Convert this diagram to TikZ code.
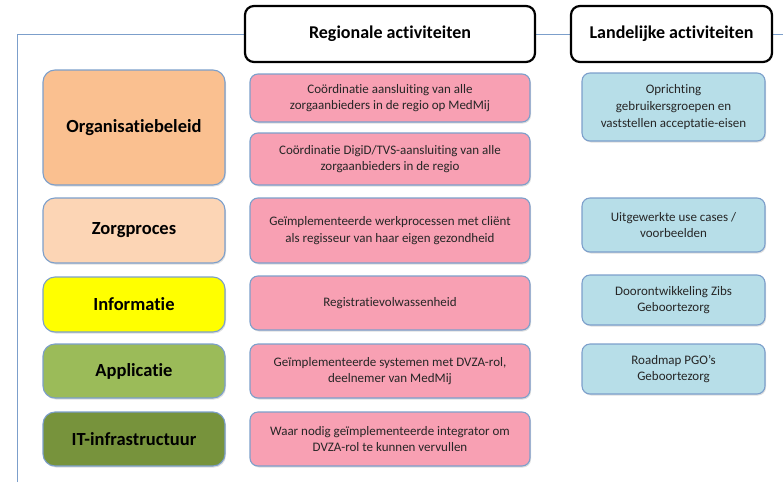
\documentclass[tikz,border=0pt]{standalone}
\usepackage{fontspec}
\setmainfont[Ligatures=NoCommon]{Carlito}
\usetikzlibrary{shadows}
\definecolor{randblauw}{HTML}{7C9FCB}
\definecolor{oranje}{HTML}{FAC090}
\definecolor{perzik}{HTML}{FCD5B5}
\definecolor{geel}{HTML}{FFFF00}
\definecolor{groen}{HTML}{9BBB59}
\definecolor{donkergroen}{HTML}{77933C}
\definecolor{roze}{HTML}{F8A0B3}
\definecolor{lichtblauw}{HTML}{B7DEE8}
\definecolor{tekst}{HTML}{262626}
\begin{document}
\begin{tikzpicture}[x=1pt, y=-1pt,
  schaduw/.style={drop shadow={opacity=0.25, shadow xshift=1pt, shadow yshift=-1.5pt}},
  laag/.style={draw=randblauw, line width=1.1pt, rounded corners=12pt, inner sep=0pt, minimum width=182pt, schaduw, font=\bfseries\fontsize{18.5}{22}\selectfont},
  regio/.style={draw=randblauw, line width=1.1pt, rounded corners=8pt, fill=roze, inner sep=0pt, minimum width=280pt, align=center, text=tekst, schaduw, font=\fontsize{13}{16.5}\selectfont},
  land/.style={draw=randblauw, line width=1.1pt, rounded corners=8pt, fill=lichtblauw, inner sep=0pt, minimum width=183pt, align=center, text=tekst, schaduw, font=\fontsize{13}{16.7}\selectfont},
  kop/.style={draw=black, line width=2.2pt, rounded corners=9pt, fill=white, inner sep=0pt, minimum height=56pt, font=\bfseries\fontsize{18}{21}\selectfont}]
  \useasboundingbox (0,0) rectangle (783,482);
  % kader
  \draw[randblauw, line width=1pt] (17,482) -- (17,34) -- (783,34);
  % koppen
  \node[kop, minimum width=290pt] (regkop) at (390,34) {Regionale activiteiten};
  \node[kop, minimum width=201pt] (landkop) at (671.5,34) {Landelijke activiteiten};
  % lagen
  \node[laag, fill=oranje, minimum height=115pt] (org) at (134,127.5) {Organisatiebeleid};
  \node[laag, fill=perzik, minimum height=65pt] (zorg) at (134,230.5) {Zorgproces};
  \node[laag, fill=geel, minimum height=55pt] (info) at (134,304.5) {Informatie};
  \node[laag, fill=groen, minimum height=54pt] (app) at (134,371) {Applicatie};
  \node[laag, fill=donkergroen, minimum height=54pt] (infra) at (134,439) {IT-infrastructuur};
  % regionaal
  \node[regio, minimum height=48pt] (reg1) at (390,98) {Coördinatie aansluiting van alle\\zorgaanbieders in de regio op MedMij};
  \node[regio, minimum height=52pt] (reg2) at (390,159) {Coördinatie DigiD/TVS-aansluiting van alle\\zorgaanbieders in de regio};
  \node[regio, minimum height=65pt] (reg3) at (390,230.5) {Geïmplementeerde werkprocessen met cliënt\\als regisseur van haar eigen gezondheid};
  \node[regio, minimum height=54pt] (reg4) at (390,303) {Registratievolwassenheid};
  \node[regio, minimum height=54pt] (reg5) at (390,371) {Geïmplementeerde systemen met DVZA-rol,\\deelnemer van MedMij};
  \node[regio, minimum height=54pt] (reg6) at (390,439) {Waar nodig geïmplementeerde integrator om\\DVZA-rol te kunnen vervullen};
  % landelijk
  \node[land, minimum height=68pt] (land1) at (673.5,107) {Oprichting\\gebruikersgroepen en\\vaststellen acceptatie-eisen};
  \node[land, minimum height=54pt] (land2) at (673.5,225) {Uitgewerkte use cases /\\voorbeelden};
  \node[land, minimum height=50pt] (land3) at (673.5,300) {Doorontwikkeling Zibs\\Geboortezorg};
  \node[land, minimum height=50pt] (land4) at (673.5,369) {Roadmap PGO’s\\Geboortezorg};
\end{tikzpicture}
\end{document}
